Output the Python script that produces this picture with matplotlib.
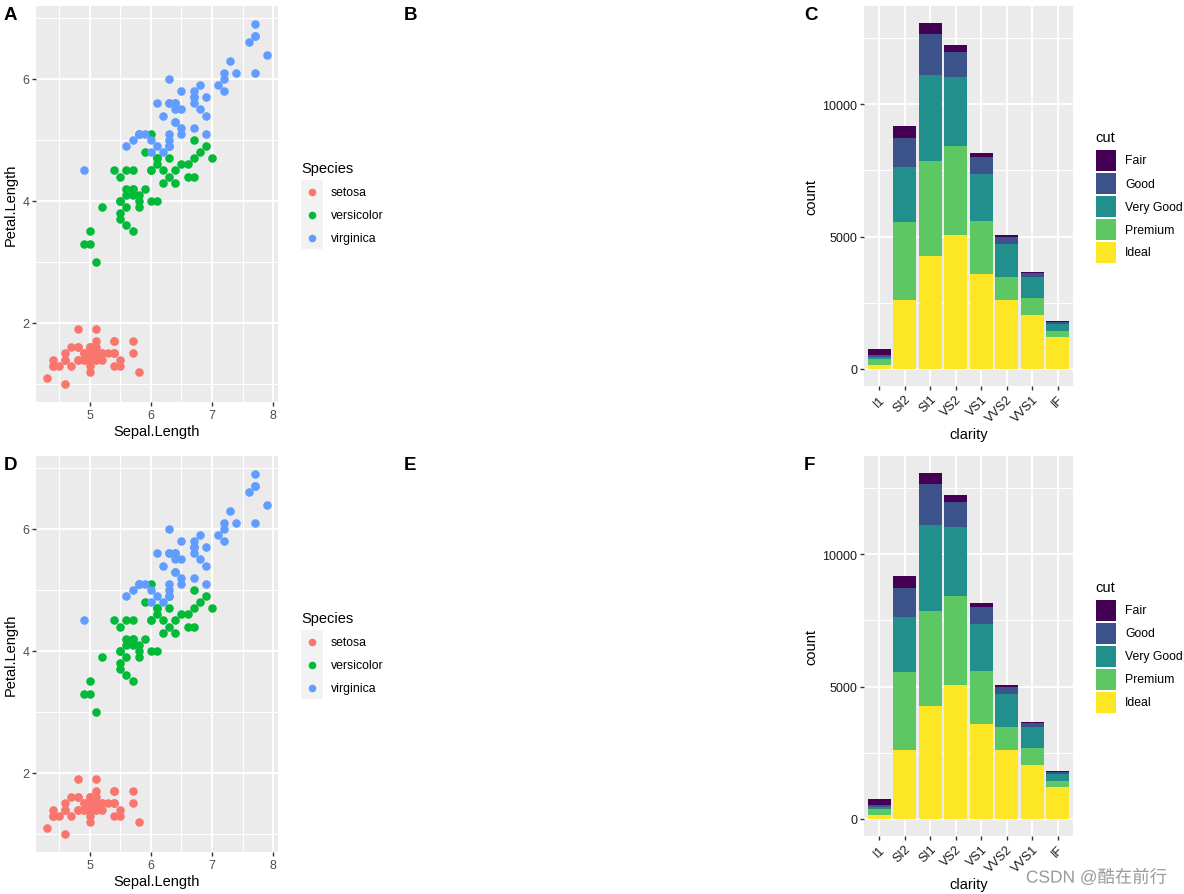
import matplotlib.pyplot as plt
import numpy as np
from matplotlib.patches import Rectangle
from matplotlib.lines import Line2D
import matplotlib.patheffects as pe

W, H = 1184, 895
plt.rcParams['font.family'] = ['Liberation Sans', 'DejaVu Sans']

# iris: Sepal.Length / Petal.Length
species = ['setosa', 'versicolor', 'virginica']
species_colors = ['#F8766D', '#00BA38', '#619CFF']
setosa_sl = [5.1, 4.9, 4.7, 4.6, 5.0, 5.4, 4.6, 5.0, 4.4, 4.9, 5.4, 4.8, 4.8, 4.3, 5.8, 5.7, 5.4, 5.1, 5.7, 5.1,
             5.4, 5.1, 4.6, 5.1, 4.8, 5.0, 5.0, 5.2, 5.2, 4.7, 4.8, 5.4, 5.2, 5.5, 4.9, 5.0, 5.5, 4.9, 4.4, 5.1,
             5.0, 4.5, 4.4, 5.0, 5.1, 4.8, 5.1, 4.6, 5.3, 5.0]
setosa_pl = [1.4, 1.4, 1.3, 1.5, 1.4, 1.7, 1.4, 1.5, 1.4, 1.5, 1.5, 1.6, 1.4, 1.1, 1.2, 1.5, 1.3, 1.4, 1.7, 1.5,
             1.7, 1.5, 1.0, 1.7, 1.9, 1.6, 1.6, 1.5, 1.4, 1.6, 1.6, 1.5, 1.5, 1.4, 1.5, 1.2, 1.3, 1.4, 1.3, 1.5,
             1.3, 1.3, 1.3, 1.6, 1.9, 1.4, 1.6, 1.4, 1.5, 1.4]
versicolor_sl = [7.0, 6.4, 6.9, 5.5, 6.5, 5.7, 6.3, 4.9, 6.6, 5.2, 5.0, 5.9, 6.0, 6.1, 5.6, 6.7, 5.6, 5.8, 6.2, 5.6,
                 5.9, 6.1, 6.3, 6.1, 6.4, 6.6, 6.8, 6.7, 6.0, 5.7, 5.5, 5.5, 5.8, 6.0, 5.4, 6.0, 6.7, 6.3, 5.6, 5.5,
                 5.5, 6.1, 5.8, 5.0, 5.6, 5.7, 5.7, 6.2, 5.1, 5.7]
versicolor_pl = [4.7, 4.5, 4.9, 4.0, 4.6, 4.5, 4.7, 3.3, 4.6, 3.9, 3.5, 4.2, 4.0, 4.7, 3.6, 4.4, 4.5, 4.1, 4.5, 3.9,
                 4.8, 4.0, 4.9, 4.7, 4.3, 4.4, 4.8, 5.0, 4.5, 3.5, 3.8, 3.7, 3.9, 5.1, 4.5, 4.5, 4.7, 4.4, 4.1, 4.0,
                 4.4, 4.6, 4.0, 3.3, 4.2, 4.2, 4.2, 4.3, 3.0, 4.1]
virginica_sl = [6.3, 5.8, 7.1, 6.3, 6.5, 7.6, 4.9, 7.3, 6.7, 7.2, 6.5, 6.4, 6.8, 5.7, 5.8, 6.4, 6.5, 7.7, 7.7, 6.0,
                6.9, 5.6, 7.7, 6.3, 6.7, 7.2, 6.2, 6.1, 6.4, 7.2, 7.4, 7.9, 6.4, 6.3, 6.1, 7.7, 6.3, 6.4, 6.0, 6.9,
                6.7, 6.9, 5.8, 6.8, 6.7, 6.7, 6.3, 6.5, 6.2, 5.9]
virginica_pl = [6.0, 5.1, 5.9, 5.6, 5.8, 6.6, 4.5, 6.3, 5.8, 6.1, 5.1, 5.3, 5.5, 5.0, 5.1, 5.3, 5.5, 6.7, 6.9, 5.0,
                5.7, 4.9, 6.7, 4.9, 5.7, 6.0, 4.8, 4.9, 5.6, 5.8, 6.1, 6.4, 5.6, 5.1, 5.6, 6.1, 5.6, 5.5, 4.8, 5.4,
                5.6, 5.1, 5.1, 5.9, 5.7, 5.2, 5.0, 5.2, 5.4, 5.1]
iris_x = [setosa_sl, versicolor_sl, virginica_sl]
iris_y = [setosa_pl, versicolor_pl, virginica_pl]

# diamonds: counts by clarity and cut
clarity = ['I1', 'SI2', 'SI1', 'VS2', 'VS1', 'VVS2', 'VVS1', 'IF']
cuts = ['Fair', 'Good', 'Very Good', 'Premium', 'Ideal']
cut_colors = ['#440154', '#3B528B', '#21908C', '#5DC863', '#FDE725']
fair = [210, 466, 408, 261, 170, 69, 17, 9]
good = [96, 1081, 1560, 978, 648, 286, 186, 71]
very_good = [84, 2100, 3240, 2591, 1775, 1235, 789, 268]
premium = [205, 2949, 3575, 3357, 1989, 870, 616, 230]
ideal = [146, 2598, 4282, 5071, 3589, 2606, 2047, 1212]
cut_counts = [fair, good, very_good, premium, ideal]

fig = plt.figure(figsize=(W / 100, H / 100), dpi=100)


def rect(x0, y0, x1, y1):
    return [x0 / W, 1 - y1 / H, (x1 - x0) / W, (y1 - y0) / H]


def fx(x):
    return x / W


def fy(y):
    return 1 - y / H


def gg_style(ax, labelcolor='#4D4D4D'):
    ax.set_facecolor('#EBEBEB')
    for s in ax.spines.values():
        s.set_visible(False)
    ax.set_axisbelow(True)
    ax.grid(which='major', color='white', linewidth=1.35)
    ax.grid(which='minor', color='white', linewidth=0.7)
    ax.tick_params(which='major', length=2.7, width=1.0, color='#333333',
                   labelcolor=labelcolor, labelsize=9, pad=2.2)
    ax.tick_params(which='minor', length=0)


def iris_panel(top, label):
    ax = fig.add_axes(rect(36, top, 278, top + 396))
    gg_style(ax)
    for xs, ys, col in zip(iris_x, iris_y, species_colors):
        ax.scatter(xs, ys, s=38, color=col, linewidths=0, zorder=3)
    ax.set_xlim(4.12, 8.08)
    ax.set_ylim(0.705, 7.195)
    ax.set_xticks([5, 6, 7, 8])
    ax.set_xticks([4.5, 5.5, 6.5, 7.5], minor=True)
    ax.set_yticks([2, 4, 6])
    ax.set_yticks([1, 3, 5, 7], minor=True)
    ax.set_xlabel('Sepal.Length', fontsize=10.5, labelpad=2.5)
    ax.set_ylabel('Petal.Length', fontsize=10.5, labelpad=3)

    # legend
    fig.text(fx(301), fy(top + 162), 'Species', fontsize=10.5, va='center', ha='left')
    fig.add_artist(Rectangle((fx(301), fy(top + 243)), 22 / W, 69 / H,
                             transform=fig.transFigure, facecolor='#F2F2F2', edgecolor='none'))
    for i, (name, col) in enumerate(zip(species, species_colors)):
        yc = top + 186 + 23 * i
        fig.add_artist(Line2D([fx(312)], [fy(yc)], marker='o', ms=5.5, color=col,
                              markeredgewidth=0, transform=fig.transFigure))
        fig.text(fx(331), fy(yc), name, fontsize=8.8, va='center', ha='left')
    fig.text(fx(4), fy(top + 9), label, fontsize=13.5, fontweight='bold', va='center', ha='left')


def diamonds_panel(top, label):
    ax = fig.add_axes(rect(864, top, 1073, top + 380))
    gg_style(ax, labelcolor='#1A1A1A')
    pos = np.arange(1, len(clarity) + 1)
    bottom = np.zeros(len(clarity))
    for counts, col in zip(cut_counts[::-1], cut_colors[::-1]):
        ax.bar(pos, counts, bottom=bottom, width=0.9, color=col, linewidth=0, zorder=3)
        bottom = bottom + np.array(counts)
    ax.set_xlim(0.4, 8.6)
    ax.set_ylim(-653, 13718)
    ax.set_xticks(pos)
    ax.set_xticklabels(clarity, rotation=45, ha='right', va='top', rotation_mode='anchor')
    ax.set_yticks([0, 5000, 10000])
    ax.set_yticks([2500, 7500, 12500], minor=True)
    ax.set_xlabel('clarity', fontsize=10.5, labelpad=2.5)
    ax.set_ylabel('count', fontsize=10.5, labelpad=3)

    fig.text(fx(1095), fy(top + 131), 'cut', fontsize=10.5, va='center', ha='left')
    for i, (name, col) in enumerate(zip(cuts, cut_colors)):
        y0 = top + 144 + 23 * i
        fig.add_artist(Rectangle((fx(1096), fy(y0 + 21)), 20 / W, 21 / H,
                                 transform=fig.transFigure, facecolor=col, edgecolor='none'))
        fig.text(fx(1125), fy(y0 + 10.5), name, fontsize=8.8, va='center', ha='left')
    fig.text(fx(804), fy(top + 9), label, fontsize=13.5, fontweight='bold', va='center', ha='left')


for top, labs in [(7, 'ABC'), (457, 'DEF')]:
    iris_panel(top, labs[0])
    fig.text(fx(404), fy(top + 9), labs[1], fontsize=13.5, fontweight='bold', va='center', ha='left')
    diamonds_panel(top, labs[2])

fig.text(fx(1167), fy(878), 'CSDN @酷在前行', fontsize=12.5, color='#9A9A9A', ha='right', va='center',
         family=['Liberation Sans', 'Noto Sans CJK SC'],
         path_effects=[pe.withStroke(linewidth=2, foreground='white')])

fig.savefig('out.png', dpi=100)
